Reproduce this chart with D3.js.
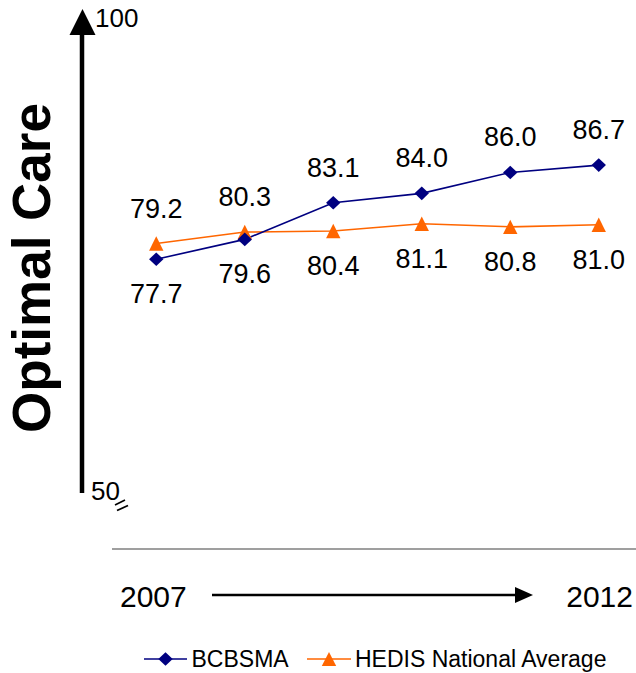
<!DOCTYPE html>
<html>
<head>
<meta charset="utf-8">
<script src="https://cdn.jsdelivr.net/npm/d3@7"></script>
<style>
  html, body { margin: 0; padding: 0; background: #fff; }
  svg { display: block; font-family: "Liberation Sans", Arial, Helvetica, sans-serif; }
</style>
</head>
<body>
<svg id="chart" width="636" height="673"></svg>
<script>
// Years on the category axis
const years = ["2007", "2008", "2009", "2010", "2011", "2012"];
// Optimal care rates (%)
const bcbsma = [77.7, 79.6, 83.1, 84.0, 86.0, 86.7];
const hedis  = [79.2, 80.3, 80.4, 81.1, 80.8, 81.0];
// Value-axis end labels
const yTicks = [50, 100];
const seriesNames = ["BCBSMA", "HEDIS National Average"];

const NAVY = "#000080", ORANGE = "#FF6600";

const svg = d3.select("#chart");

const x = d3.scaleBand().domain(years).range([112, 643]);
const cx = d => x(d) + x.bandwidth() / 2;
const y = d3.scaleLinear().domain([50, 100]).range([549, 26]);

// category axis baseline at the bottom of the value range
svg.append("line")
  .attr("x1", x.range()[0]).attr("x2", x.range()[1])
  .attr("y1", y(50)).attr("y2", y(50))
  .attr("stroke", "#404040").attr("stroke-width", 1.2);

// value axis drawn as an upward arrow
const axX = 82;
svg.append("line")
  .attr("x1", axX).attr("x2", axX)
  .attr("y1", 493).attr("y2", 33)
  .attr("stroke", "#000").attr("stroke-width", 4.5);
svg.append("path")
  .attr("d", `M${axX + 0.5},9 L${axX - 12.5},35 L${axX + 13.5},35 Z`)
  .attr("fill", "#000");

// end labels on the value axis
svg.append("text").attr("x", 95).attr("y", 27)
  .attr("font-size", 26).attr("fill", "#000").text(yTicks[1]);
svg.append("text").attr("x", 91).attr("y", 500)
  .attr("font-size", 26).attr("fill", "#000").text(yTicks[0]);

// axis break mark
[[115, 505, 125, 500], [117, 510.5, 128, 505.5]].forEach(([a, b, c, d]) => {
  svg.append("line").attr("x1", a).attr("y1", b).attr("x2", c).attr("y2", d)
    .attr("stroke", "#000").attr("stroke-width", 1.8);
});

// axis title
svg.append("text")
  .attr("transform", "translate(50,268) rotate(-90)")
  .attr("text-anchor", "middle")
  .attr("font-size", 53).attr("font-weight", "bold").attr("fill", "#000")
  .text("Optimal Care");

// series lines
const line = d3.line().x((d, i) => cx(years[i])).y(d => y(d));
svg.append("path").datum(hedis).attr("d", line)
  .attr("fill", "none").attr("stroke", ORANGE).attr("stroke-width", 1.6);
svg.append("path").datum(bcbsma).attr("d", line)
  .attr("fill", "none").attr("stroke", NAVY).attr("stroke-width", 1.6);

// marker shapes
const diamond = (w, h) => `M0,${-h} L${w},0 L0,${h} L${-w},0 Z`;
const triangle = (w, h) => `M0,${-h} L${w},${h} L${-w},${h} Z`;

svg.selectAll(".tri").data(hedis).join("path")
  .attr("class", "tri")
  .attr("transform", (d, i) => `translate(${cx(years[i])},${y(d)})`)
  .attr("d", triangle(7.2, 7.2)).attr("fill", ORANGE);
svg.selectAll(".dia").data(bcbsma).join("path")
  .attr("class", "dia")
  .attr("transform", (d, i) => `translate(${cx(years[i])},${y(d)})`)
  .attr("d", diamond(7.2, 6.8)).attr("fill", NAVY);

// value labels: the higher series is labelled above, the lower one below
const labels = [];
years.forEach((yr, i) => {
  const a = bcbsma[i], b = hedis[i];
  const hi = Math.max(a, b), lo = Math.min(a, b);
  labels.push({ x: cx(yr), y: y(hi) - 26, v: hi });
  labels.push({ x: cx(yr), y: y(lo) + 44, v: lo });
});
svg.selectAll(".lbl").data(labels).join("text")
  .attr("class", "lbl")
  .attr("x", d => d.x).attr("y", d => d.y)
  .attr("text-anchor", "middle").attr("font-size", 27).attr("fill", "#000")
  .text(d => d.v.toFixed(1));

// time direction under the axis
svg.append("text").attr("x", 120).attr("y", 607)
  .attr("font-size", 30).attr("fill", "#000").text(years[0]);
svg.append("text").attr("x", 633).attr("y", 607).attr("text-anchor", "end")
  .attr("font-size", 30).attr("fill", "#000").text(years[years.length - 1]);
svg.append("line").attr("x1", 212).attr("x2", 517).attr("y1", 595).attr("y2", 595)
  .attr("stroke", "#000").attr("stroke-width", 2.4);
svg.append("path").attr("d", "M515,587 L533,595 L515,603 Z").attr("fill", "#000");

// legend
const legend = [
  { name: seriesNames[0], color: NAVY, x0: 144, x1: 187, tx: 191.5, shape: diamond(7.2, 6.8) },
  { name: seriesNames[1], color: ORANGE, x0: 307, x1: 351, tx: 355, shape: triangle(7.2, 7) }
];
const lg = svg.selectAll(".lg").data(legend).join("g").attr("class", "lg");
lg.append("line")
  .attr("x1", d => d.x0).attr("x2", d => d.x1).attr("y1", 659).attr("y2", 659)
  .attr("stroke", d => d.color).attr("stroke-width", 1.6);
lg.append("path")
  .attr("transform", d => `translate(${(d.x0 + d.x1) / 2},659)`)
  .attr("d", d => d.shape).attr("fill", d => d.color);
lg.append("text")
  .attr("x", d => d.tx).attr("y", 666.5)
  .attr("font-size", 23).attr("fill", "#000")
  .text(d => d.name);
</script>
</body>
</html>
